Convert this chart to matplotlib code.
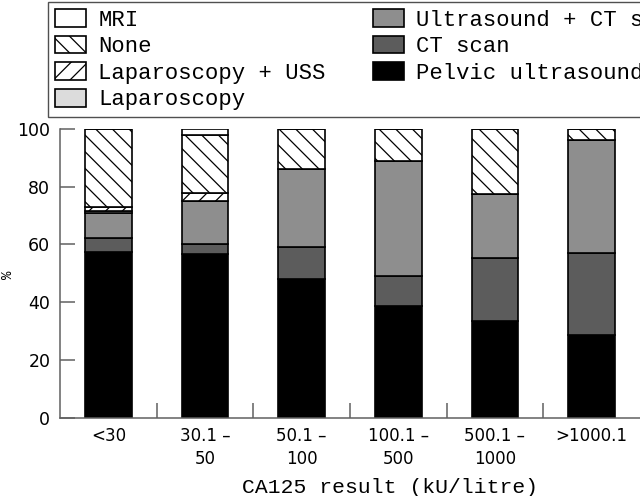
import matplotlib
matplotlib.use("Agg")
import matplotlib.pyplot as plt
import numpy as np

categories = ['<30', '30.1 –\n50', '50.1 –\n100', '100.1 –\n500', '500.1 –\n1000', '>1000.1']
series_names = ['Pelvic ultrasound', 'CT scan', 'Ultrasound + CT scan', 'Laparoscopy',
                'Laparoscopy + USS', 'None', 'MRI']
pelvic = [57.5, 56.6, 47.9, 38.7, 33.6, 28.6]
ct_scan = [4.6, 3.6, 11.1, 10.4, 21.8, 28.3]
us_ct = [8.7, 15.0, 27.0, 39.9, 22.1, 39.3]
laparoscopy = [0.8, 0, 0, 0, 0, 0]
lap_uss = [1.4, 2.5, 0, 0, 0, 0]
none = [27.0, 20.2, 14.0, 11.0, 22.5, 3.8]
mri = [0, 2.1, 0, 0, 0, 0]
yticks = [0, 20, 40, 60, 80, 100]

values = [pelvic, ct_scan, us_ct, laparoscopy, lap_uss, none, mri]
colors = ['#000000', '#5c5c5c', '#8e8e8e', '#dcdcdc', 'white', 'white', 'white']
hatches = [None, None, None, None, '//', '\\\\', None]

plt.rcParams['hatch.color'] = 'black'
plt.rcParams['hatch.linewidth'] = 0.9

fig = plt.figure(figsize=(6.4, 4.96), dpi=100)
W, H = 640, 496
ax = fig.add_axes([60 / W, 1 - 417.7 / H, 580 / W, 288.7 / H])

x = np.arange(len(categories))
bottom = np.zeros(len(categories))
handles = {}
for name, vals, c, h in zip(series_names, values, colors, hatches):
    v = np.array(vals, dtype=float)
    bc = ax.bar(x, v, width=0.48, bottom=bottom, color=c, edgecolor='black',
                linewidth=1.2, hatch=h, label=name)
    handles[name] = bc
    bottom += v

ax.set_xlim(-0.5, len(categories) - 0.5)
ax.set_ylim(0, 100)
ax.set_yticks(yticks)
ax.set_xticks(x)
ax.set_xticklabels(categories, fontsize=12, family='DejaVu Sans', linespacing=1.35)
ax.set_xticks(np.arange(len(categories) - 1) + 0.5, minor=True)
ax.tick_params(axis='x', which='major', length=0, pad=7)
ax.tick_params(axis='x', which='minor', direction='in', length=10.8, width=1.1, color='#606060')
ax.tick_params(axis='y', direction='in', length=10.8, width=1.1, color='#606060', pad=7,
               labelsize=12.5)
for lab in ax.get_yticklabels():
    lab.set_family('DejaVu Sans')
for s in ['top', 'right']:
    ax.spines[s].set_visible(False)
for s in ['left', 'bottom']:
    ax.spines[s].set_color('#606060')
    ax.spines[s].set_linewidth(1.1)

fig.text(389.7 / W, 3 / H, 'CA125 result (kU/litre)', ha='center', va='baseline',
         fontsize=15.4, family='Liberation Mono')
fig.text(8 / W, 1 - 275 / H, '%', rotation=90, ha='center', va='center',
         fontsize=10, family='Liberation Mono')

order = ['MRI', 'None', 'Laparoscopy + USS', 'Laparoscopy',
         'Ultrasound + CT scan', 'CT scan', 'Pelvic ultrasound']
leg = fig.legend([handles[n] for n in order], order, loc='upper left',
                 bbox_to_anchor=(48 / W, 1 - 2 / H), borderaxespad=0, ncol=2,
                 prop={'family': 'Liberation Mono', 'size': 16},
                 handlelength=1.4, handleheight=0.86, handletextpad=0.54,
                 columnspacing=2.15, labelspacing=0.22, borderpad=0.32,
                 fancybox=False, framealpha=1, edgecolor='#505050')
leg.get_frame().set_linewidth(1.0)

fig.savefig('out.png', dpi=100)
